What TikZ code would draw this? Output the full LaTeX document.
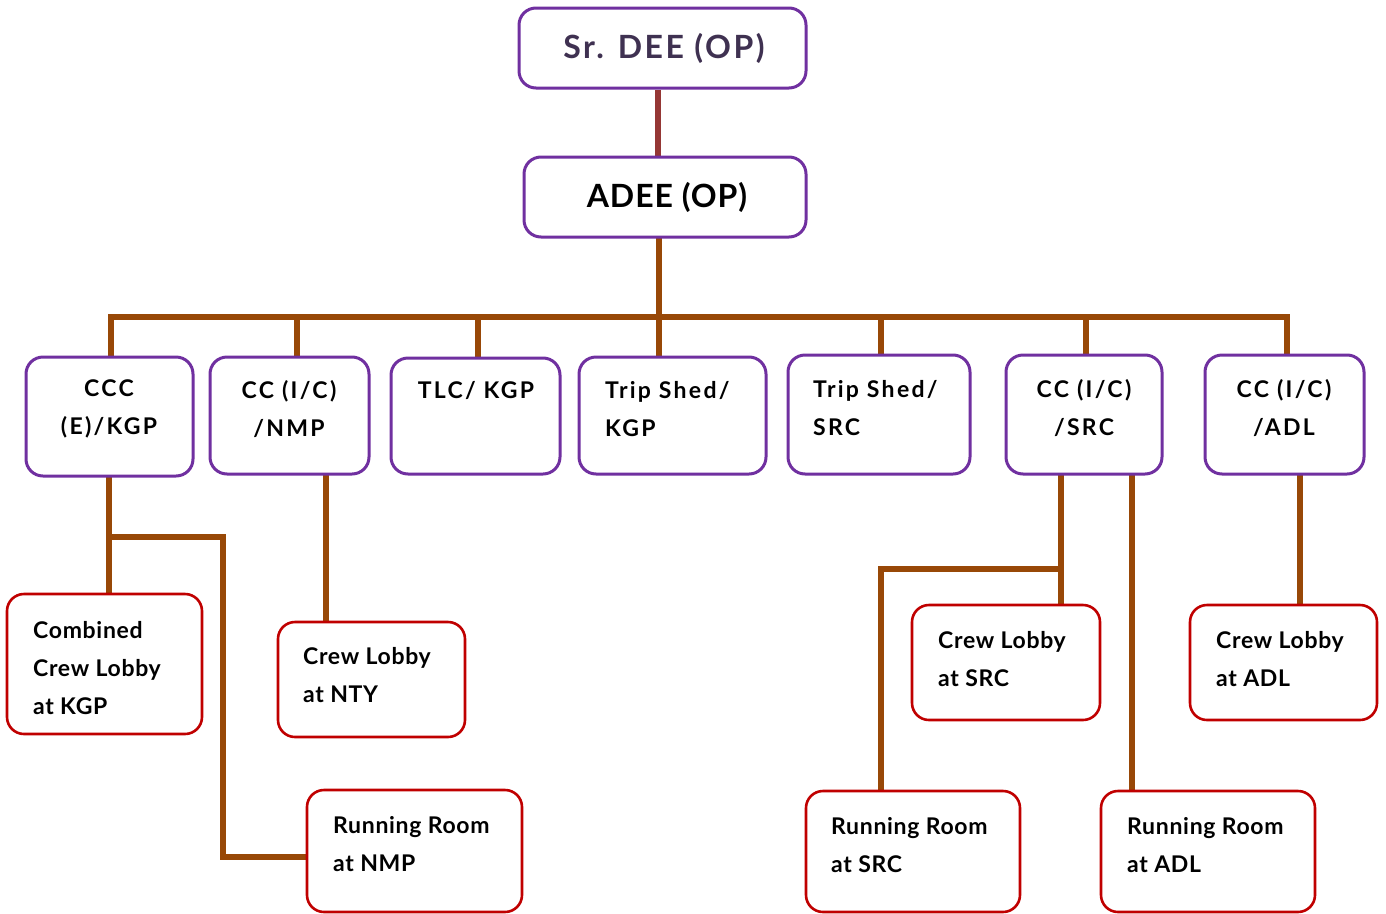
\documentclass[tikz,border=0pt]{standalone}
\usepackage{fontspec}
\setmainfont{Lato}
\usetikzlibrary{backgrounds}
\definecolor{boxpurple}{HTML}{7030A0}
\definecolor{boxred}{HTML}{C00000}
\definecolor{linebrown}{HTML}{984807}
\definecolor{linered}{HTML}{953735}
\definecolor{toptext}{HTML}{3F3151}
\tikzset{
  pbox/.style={draw=boxpurple, line width=3pt, rounded corners=17pt, fill=white, inner sep=0pt},
  rbox/.style={draw=boxred, line width=2.6pt, rounded corners=17pt, fill=white, inner sep=0pt},
  bline/.style={draw=linebrown, line width=6.5pt, line cap=rect, line join=miter},
  rline/.style={draw=linered, line width=6.5pt},
  ttop/.style={font=\fontsize{32}{36}\selectfont\bfseries\addfontfeature{LetterSpace=8}, inner sep=0pt},
  tadee/.style={font=\fontsize{32}{36}\selectfont\bfseries\addfontfeature{LetterSpace=3}, inner sep=0pt},
  tmid/.style={font=\fontsize{23}{38}\selectfont\bfseries\addfontfeature{LetterSpace=10}, inner sep=0pt, align=center},
  tleft2/.style={font=\fontsize{23}{38}\selectfont\bfseries\addfontfeature{LetterSpace=10}, inner sep=0pt, align=left, anchor=west},
  tleft/.style={font=\fontsize{23}{38}\selectfont\bfseries\addfontfeature{LetterSpace=3}, inner sep=0pt, align=left, anchor=west},
}
\begin{document}
\begin{tikzpicture}[x=1pt,y=-1pt]
\useasboundingbox (0,0) rectangle (1386,913);
% level 0 and 1
\node[pbox, minimum width=287pt, minimum height=80pt] (sr) at (662.5,48) {};
\node[pbox, minimum width=282pt, minimum height=80pt] (adee) at (665,197) {};
% level 2
\node[pbox, minimum width=167pt, minimum height=119pt] (ccc) at (109.5,416.5) {};
\node[pbox, minimum width=159pt, minimum height=117pt] (ccnmp) at (289.5,415.5) {};
\node[pbox, minimum width=169pt, minimum height=116pt] (tlc) at (475.5,416) {};
\node[pbox, minimum width=187pt, minimum height=117pt] (tripk) at (672.5,415.5) {};
\node[pbox, minimum width=182pt, minimum height=119pt] (trips) at (879,414.5) {};
\node[pbox, minimum width=156pt, minimum height=119pt] (ccsrc) at (1084,414.5) {};
\node[pbox, minimum width=159pt, minimum height=119pt] (ccadl) at (1284.5,414.5) {};
% level 3
\node[rbox, minimum width=195pt, minimum height=140pt] (comb) at (104.5,664) {};
\node[rbox, minimum width=187pt, minimum height=115pt] (clnty) at (371.5,679.5) {};
\node[rbox, minimum width=215pt, minimum height=122pt] (rrnmp) at (414.5,851) {};
\node[rbox, minimum width=188pt, minimum height=115pt] (clsrc) at (1006,662.5) {};
\node[rbox, minimum width=187pt, minimum height=115pt] (cladl) at (1283.5,662.5) {};
\node[rbox, minimum width=214pt, minimum height=121pt] (rrsrc) at (913,851.5) {};
\node[rbox, minimum width=214pt, minimum height=121pt] (rradl) at (1208,851.5) {};
% texts
\node[ttop, text=toptext] (srt) at (664,48) {Sr. DEE (OP)};
\node[tadee] (adeet) at (667,197) {ADEE (OP)};
\node[tmid] (ccct) at (109,409) {CCC\\(E)/KGP};
\node[tmid] (ccnmpt) at (289,409) {CC (I/C)\\/NMP};
\node[tmid] (tlct) at (476,390) {TLC/ KGP};
\node[tleft2] (tripkt) at (605,409) {Trip Shed/\\KGP};
\node[tleft2] (tripst) at (813,408) {Trip Shed/\\SRC};
\node[tmid] (ccsrct) at (1084,408) {CC (I/C)\\/SRC};
\node[tmid] (ccadlt) at (1284,408) {CC (I/C)\\/ADL};
\node[tleft] (combt) at (33,668) {Combined\\Crew Lobby\\at KGP};
\node[tleft] (clntyt) at (303,675) {Crew Lobby\\at NTY};
\node[tleft] (rrnmpt) at (333,844) {Running Room\\at NMP};
\node[tleft] (clsrct) at (938,659) {Crew Lobby\\at SRC};
\node[tleft] (cladlt) at (1216,659) {Crew Lobby\\at ADL};
\node[tleft] (rrsrct) at (831,845) {Running Room\\at SRC};
\node[tleft] (rradlt) at (1127,845) {Running Room\\at ADL};
% connectors
\coordinate (busL) at (111,317);
\coordinate (busR) at (1287,317);
\coordinate (kgpknee) at (109,537);
\coordinate (srcknee) at (1061,569);
\begin{pgfonlayer}{background}
\draw[rline] (658,0 |- sr.south) -- (658,0 |- adee.north);
\draw[bline] (659,0 |- adee.south) -- (659,0 |- tripk.north);
\draw[bline] (111,0 |- ccc.north) -- (busL) -- (busR) -- (1287,0 |- ccadl.north);
\draw[bline] (297,0 |- ccnmp.north) -- (297,0 |- busL);
\draw[bline] (478,0 |- tlc.north) -- (478,0 |- busL);
\draw[bline] (881,0 |- trips.north) -- (881,0 |- busL);
\draw[bline] (1086,0 |- ccsrc.north) -- (1086,0 |- busL);
\draw[bline] (109,0 |- ccc.south) -- (109,0 |- comb.north);
\draw[bline] (kgpknee) -- (223,537) -- (223,857) -- (rrnmp.west |- 0,857);
\draw[bline] (326,0 |- ccnmp.south) -- (326,0 |- clnty.north);
\draw[bline] (1061,0 |- ccsrc.south) -- (1061,0 |- clsrc.north);
\draw[bline] (srcknee) -- (881,569) -- (881,0 |- rrsrc.north);
\draw[bline] (1132,0 |- ccsrc.south) -- (1132,0 |- rradl.north);
\draw[bline] (1300,0 |- ccadl.south) -- (1300,0 |- cladl.north);
\end{pgfonlayer}
\end{tikzpicture}
\end{document}
